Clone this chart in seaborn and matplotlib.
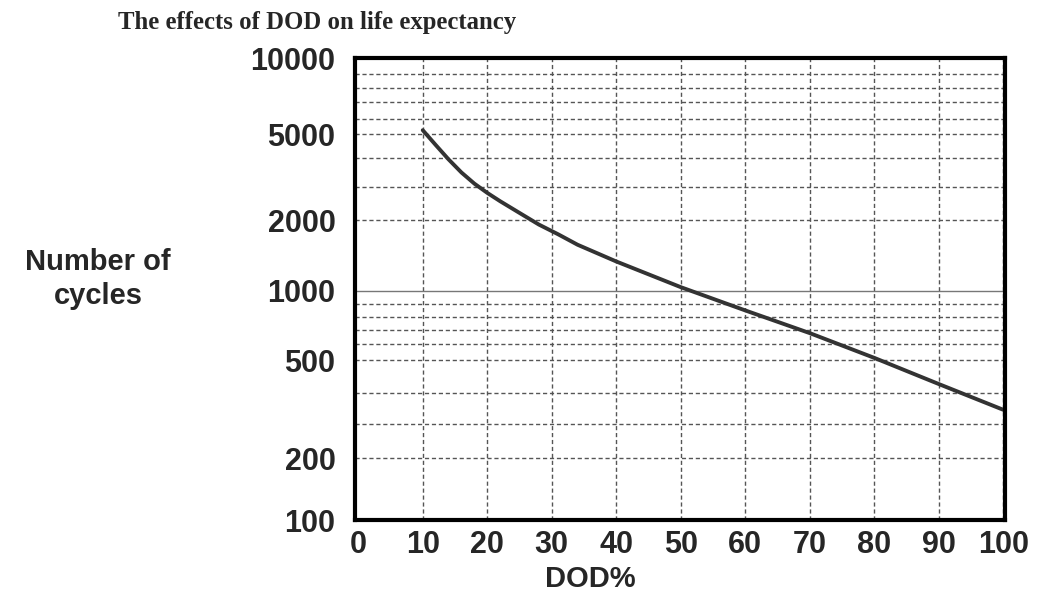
import numpy as np
import pandas as pd
import matplotlib
matplotlib.use("Agg")
import matplotlib.pyplot as plt
import matplotlib.ticker as mticker
import seaborn as sns

# values
dod = [10, 12, 14, 16, 18, 20, 22, 25, 28, 31, 34, 40, 50, 60, 70, 80, 90, 100]
cycles = [5250, 4520, 3940, 3460, 3100, 2790, 2520, 2185, 1916, 1741, 1572,
          1334, 1037, 849, 677, 513, 425, 342]

ytick_labels = [100, 200, 500, 1000, 2000, 5000, 10000]
xticks = list(range(0, 101, 10))

# the printed chart's y axis is only roughly logarithmic:
# gridline value -> relative height on the axis (0 = bottom, 1 = top)
grid_vals = [100, 200, 300, 400, 500, 600, 700, 800, 900, 1000,
             2000, 3000, 4000, 5000, 6000, 7000, 8000, 9000, 10000]
grid_pos = [0.0, 0.134, 0.208, 0.275, 0.346, 0.381, 0.411, 0.439, 0.468, 0.496,
            0.649, 0.721, 0.784, 0.835, 0.868, 0.905, 0.935, 0.965, 1.0]

log_vals = np.log10(grid_vals)


def fwd(v):
    v = np.clip(np.asarray(v, dtype=float), 1e-3, None)
    return np.interp(np.log10(v), log_vals, grid_pos, left=-1, right=2)


def inv(u):
    return 10 ** np.interp(u, grid_pos, log_vals)


df = pd.DataFrame({"DOD%": dod, "cycles": cycles})

sns.set_style("white")
plt.rcParams['font.family'] = ['Liberation Sans', 'DejaVu Sans']

fig = plt.figure(figsize=(10.54, 6), dpi=100)
ax = fig.add_axes([0.3368, 0.1333, 0.617, 0.77])

sns.lineplot(data=df, x="DOD%", y="cycles", ax=ax, color="#333333", linewidth=2.8)
for ln in ax.get_lines():
    ln.set_solid_joinstyle("round")
    ln.set_solid_capstyle("round")

ax.set_yscale("function", functions=(fwd, inv))
ax.set_ylim(100, 10000)
ax.set_xlim(-0.5, 100.3)
ax.set_xticks(xticks)
ax.set_xticklabels([str(v) for v in xticks])

major = [v for v in grid_vals if v in (100, 1000, 10000)]
minor = [v for v in grid_vals if v not in major]
ax.set_yticks(major)
ax.set_yticks(minor, minor=True)
ax.yaxis.set_major_formatter(mticker.FuncFormatter(lambda v, p: "%d" % round(v)))
ax.yaxis.set_minor_formatter(mticker.FuncFormatter(
    lambda v, p: "%d" % round(v) if int(round(v)) in ytick_labels else ""))

# grid: dashed verticals and minor horizontals, solid at 1000
ax.xaxis.grid(True, which="major", linestyle=(0, (3, 2)), color="#555555", linewidth=1)
ax.yaxis.grid(True, which="minor", linestyle=(0, (3, 2)), color="#555555", linewidth=1)
ax.yaxis.grid(True, which="major", linestyle="-", color="#777777", linewidth=1)
ax.set_axisbelow(True)
# no grid line at x=0, the spine sits there
ax.xaxis.get_gridlines()[0].set_visible(False)

ax.tick_params(axis="both", which="both", length=0, labelsize=22)
ax.tick_params(axis="y", which="both", pad=14)
ax.tick_params(axis="x", pad=7)
for lab in ax.get_xticklabels() + ax.get_yticklabels(which="both"):
    lab.set_fontweight("bold")

for sp in ax.spines.values():
    sp.set_visible(True)
    sp.set_color("black")
    sp.set_linewidth(3)

ax.set_xlabel("DOD%", fontsize=21, fontweight="bold")
ax.xaxis.set_label_coords(0.362, -0.098)
ax.set_ylabel("")
fig.text(0.093, 0.535, "Number of\ncycles", fontsize=21, fontweight="bold",
         ha="center", va="center", linespacing=1.25)

fig.text(0.112, 0.963, "The effects of DOD on life expectancy",
         family=["Liberation Serif", "DejaVu Serif"], fontsize=17.8,
         fontweight="bold", ha="left", va="center")

fig.savefig("out.png", dpi=100)
